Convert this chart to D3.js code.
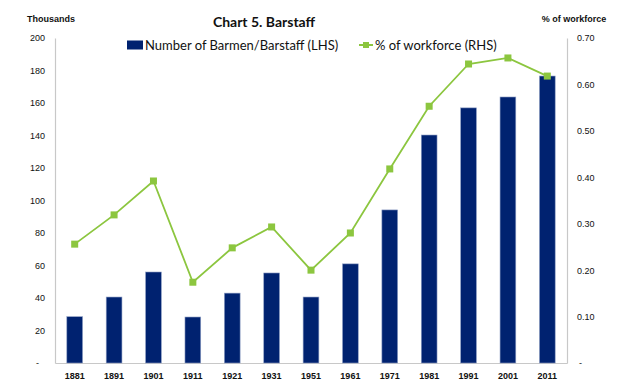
<!DOCTYPE html>
<html><head><meta charset="utf-8">
<script src="https://cdn.jsdelivr.net/npm/d3@7"></script>
<style>body{margin:0;background:#fff}svg{display:block}</style>
</head><body>
<script>
const years = ["1881","1891","1901","1911","1921","1931","1951","1961","1971","1981","1991","2001","2011"];
const barstaff = [28.5, 40.6, 56, 28.3, 43, 55.4, 40.6, 61, 94.2, 140.3, 157, 163.7, 176.6];
const workforcePct = [0.256, 0.319, 0.392, 0.174, 0.248, 0.293, 0.200, 0.280, 0.418, 0.553, 0.644, 0.657, 0.618];
const leftTicks = [0,20,40,60,80,100,120,140,160,180,200];
const rightTicks = [0,0.1,0.2,0.3,0.4,0.5,0.6,0.7];

const W=620,H=386;
const svg=d3.select("body").append("svg").attr("width",W).attr("height",H);
const m={l:55,r:567,t:38,b:363};
const x=d3.scaleBand().domain(years).range([m.l,m.r]).paddingInner(0.6).paddingOuter(0.3);
const yL=d3.scaleLinear().domain([0,200]).range([m.b,m.t]);
const yR=d3.scaleLinear().domain([0,0.7]).range([m.b,m.t]);
const navy="#002270", green="#8cc63f", gray="#c8c8c8";
const tickFont="'Liberation Sans', Arial, sans-serif";

// axes
const axL=d3.axisLeft(yL).tickValues(leftTicks).tickSize(0).tickPadding(10)
  .tickFormat(d=>d===0?"-":d);
const gL=svg.append("g").attr("transform",`translate(${m.l},0)`).call(axL);
const axR=d3.axisRight(yR).tickValues(rightTicks).tickSize(0).tickPadding(10)
  .tickFormat(d=>d===0?"-":d3.format(".2f")(d));
const gR=svg.append("g").attr("transform",`translate(${m.r},0)`).call(axR);
const axB=d3.axisBottom(x).tickSize(0).tickPadding(8);
const gB=svg.append("g").attr("transform",`translate(0,${m.b})`).call(axB);
[gL,gR,gB].forEach(g=>{
  g.select(".domain").attr("stroke",gray).attr("stroke-width",1.2);
  g.selectAll("text").attr("font-family",tickFont).attr("font-size",9).attr("fill","#111");
});
gB.selectAll("text").attr("font-weight","bold").attr("dy","0.9em");
gR.selectAll(".tick text").filter(d=>d===0).attr("dx",2);
gL.selectAll(".tick text").filter(d=>d===0).attr("dx",-6);

// bars
svg.append("g").selectAll("rect").data(years).join("rect")
  .attr("x",d=>x(d)).attr("width",x.bandwidth())
  .attr("y",(d,i)=>yL(barstaff[i])).attr("height",(d,i)=>m.b-yL(barstaff[i]))
  .attr("fill",navy).attr("stroke","#8f9fc4").attr("stroke-width",0.6);

// line
const cx=d=>x(d)+x.bandwidth()/2;
svg.append("path").datum(years)
  .attr("d",d3.line().x(d=>cx(d)).y((d,i)=>yR(workforcePct[i])))
  .attr("fill","none").attr("stroke",green).attr("stroke-width",1.8);
svg.append("g").selectAll("rect").data(years).join("rect")
  .attr("x",d=>cx(d)-3.5).attr("y",(d,i)=>yR(workforcePct[i])-3.5)
  .attr("width",7).attr("height",7).attr("fill",green);

// titles
const calib="Lato, 'Open Sans', sans-serif";
svg.append("text").attr("x",264).attr("y",27).attr("text-anchor","middle")
  .attr("font-family",calib).attr("font-weight","bold").attr("font-size",14).attr("fill","#111")
  .text("Chart 5. Barstaff");
svg.append("text").attr("x",51).attr("y",22).attr("text-anchor","middle")
  .attr("font-family",tickFont).attr("font-weight","bold").attr("font-size",9).attr("fill","#111")
  .text("Thousands");
svg.append("text").attr("x",574).attr("y",22).attr("text-anchor","middle")
  .attr("font-family",tickFont).attr("font-weight","bold").attr("font-size",9).attr("fill","#111")
  .text("% of workforce");

// legend
const lg=svg.append("g").attr("font-family",calib).attr("font-size",13).attr("fill","#111");
lg.append("rect").attr("x",127).attr("y",40.5).attr("width",16).attr("height",9).attr("fill",navy);
lg.append("text").attr("x",145).attr("y",50).text("Number of Barmen/Barstaff (LHS)");
lg.append("line").attr("x1",359).attr("x2",373).attr("y1",45).attr("y2",45).attr("stroke",green).attr("stroke-width",2);
lg.append("rect").attr("x",363).attr("y",42).attr("width",6).attr("height",6).attr("fill",green);
lg.append("text").attr("x",375).attr("y",50).text("% of workforce (RHS)");
</script>
</body></html>
